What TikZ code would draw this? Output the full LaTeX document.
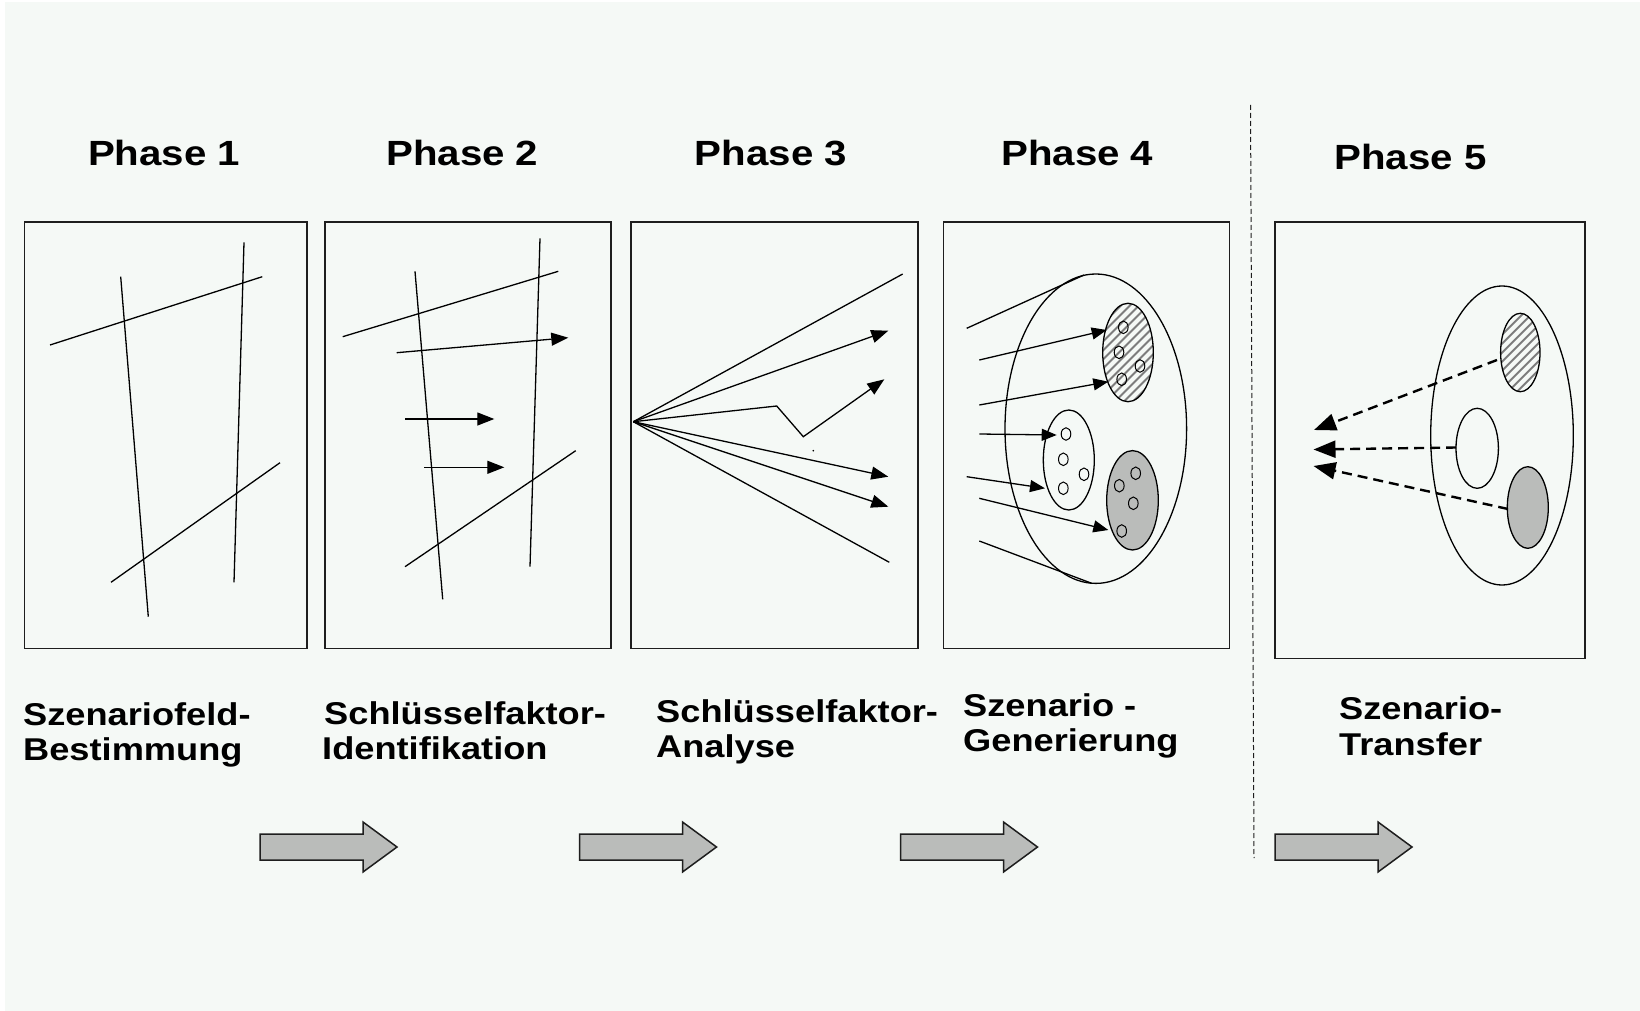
\documentclass[tikz,border=0pt]{standalone}
\usepackage{fontspec}
\setmainfont{Liberation Sans}
\newfontfamily\phfont{Liberation Sans}[FakeStretch=1.15]
\usetikzlibrary{arrows.meta}
\definecolor{bg}{RGB}{245,249,246}
\definecolor{boxgrey}{RGB}{186,188,186}
\definecolor{hatchgrey}{RGB}{125,125,125}
\definecolor{edge}{RGB}{30,30,30}
\newcommand\hatchell[4]{%
  \begin{scope}
    \clip (#1,#2) ellipse [x radius=#3pt, y radius=#4pt];
    \foreach \k in {-14,...,14}
      \draw[hatchgrey, line width=2pt] ({#1+\k*9-70},{#2+70}) -- ++(140,-140);
  \end{scope}
  \draw[thinline] (#1,#2) ellipse [x radius=#3pt, y radius=#4pt];}
\begin{document}
\begin{tikzpicture}[x=1pt,y=-1pt,
  panel/.style={draw=edge,line width=1.6pt},
  thinline/.style={line width=1.3pt,draw=black},
  arr/.style={thinline,-{Triangle[length=17pt,width=13pt]}},
  arrsmall/.style={thinline,-{Triangle[length=15pt,width=12pt]}},
  dasharr/.style={line width=2.4pt,dash pattern=on 10pt off 6pt,-{Triangle[length=22pt,width=17pt]}},
  divider/.style={draw=edge,line width=1pt,dash pattern=on 5pt off 3pt},
  dot/.style={line width=1pt,draw=black},
  blockarrow/.pic={\draw[draw=edge,line width=1.5pt,fill=boxgrey,line join=miter]
     (0,12) -- (103,12) -- (103,0) -- (137,25) -- (103,50) -- (103,38) -- (0,38) -- cycle;},
  phasetxt/.style={font=\phfont\bfseries\fontsize{35}{42}\selectfont,inner sep=0pt,anchor=base},
  lbl/.style={font=\phfont\bfseries\fontsize{31.5}{38}\selectfont,inner sep=0pt,anchor=base west}]
\useasboundingbox (0,0) rectangle (1640,1011);
\fill[white] (0,0) rectangle (1640,1011);
\fill[bg] (5,2) rectangle (1640,1011);

% titles
\node[phasetxt] (p1) at (164.2,165.7) {Phase 1};
\node[phasetxt] (p2) at (462.3,165.7) {Phase 2};
\node[phasetxt] (p3) at (770.9,165.7) {Phase 3};
\node[phasetxt] (p4) at (1077.3,165.7) {Phase 4};
\node[phasetxt] (p5) at (1410.5,170) {Phase 5};

% divider
\draw[divider] (1250.5,105) -- (1254,858);

% ---- panel 1
\draw[panel] (24.3,221.7) rectangle (306.7,648.3);
\draw[thinline] (50,345) -- (262.3,276.7);
\draw[thinline] (120.7,276.7) -- (148.3,616.7);
\draw[thinline] (244,242.3) -- (234,582.3);
\draw[thinline] (111,582.3) -- (280,462.7);

% ---- panel 2
\draw[panel] (325,221.7) rectangle (611,648.3);
\draw[thinline] (342.7,336.7) -- (558.3,271.3);
\draw[thinline] (415,271.3) -- (442.7,599.3);
\draw[thinline] (540,238.3) -- (530,566.7);
\draw[thinline] (405,566.7) -- (575.7,450.7);
\draw[arr] (396.7,352.7) -- (568.3,337.7);
\draw[arr] (405,419) -- (494.3,419);
\draw[arr] (424,467.3) -- (504.3,467.3);

% ---- panel 3
\draw[panel] (631,221.7) rectangle (917.7,648.3);
\coordinate (o) at (633.3,421.7);
\draw[thinline] (o) -- (902.7,274);
\draw[arr] (o) -- (888.3,330.7);
\draw[arr,line join=miter] (o) -- (776.7,406) -- (803.3,436.7) -- (884.3,379.3);
\draw[arr] (o) -- (888.3,476.7);
\draw[arr] (o) -- (888.3,506.7);
\draw[thinline] (o) -- (889.3,562.3);
\fill[black] (813.3,450.7) circle [radius=0.9pt];

% ---- panel 4
\draw[panel] (943.3,221.7) rectangle (1229.3,648.3);
\draw[thinline] (1095.8,428.7) ellipse [x radius=90.8pt, y radius=154.7pt];
\hatchell{1128}{352.5}{25.3}{49.2}
\draw[thinline] (1068.8,460) ellipse [x radius=25.5pt, y radius=50pt];
\draw[thinline,fill=boxgrey] (1132.5,500.3) ellipse [x radius=25.8pt, y radius=49.7pt];
\foreach \x/\y in {1123.3/327.3,1119/352.3,1140/366,1121.7/379.3,
                   1066/434,1063.3/459.3,1084/474.3,1063.3/488.3,
                   1135.7/473.3,1119.3/485.7,1133.3/503.3,1121.7/531}
  \draw[dot] (\x,\y) ellipse [x radius=4.8pt, y radius=6.3pt];
\draw[thinline] (966.7,328.3) -- (1084,275);
\draw[thinline] (979.3,541) -- (1091.7,583.3);
\draw[arrsmall] (979.3,360) -- (1106.7,330);
\draw[arrsmall] (979.3,405) -- (1108.3,381.7);
\draw[arrsmall] (979.3,434) -- (1056.7,435);
\draw[arrsmall] (966.7,476.7) -- (1045,488.3);
\draw[arrsmall] (979.3,498.3) -- (1108.3,530);

% ---- panel 5
\draw[panel] (1275,221.7) rectangle (1585,658.3);
\draw[thinline] (1502,435.5) ellipse [x radius=71.3pt, y radius=149.5pt];
\hatchell{1520.3}{352.5}{19.7}{39.2}
\draw[thinline] (1477.2,448.3) ellipse [x radius=21.2pt, y radius=40pt];
\draw[thinline,fill=boxgrey] (1527.8,507.5) ellipse [x radius=20.5pt, y radius=40.8pt];
\draw[dasharr] (1497,360) -- (1314,430);
\draw[dasharr] (1456,447.5) -- (1313.5,449.5);
\draw[dasharr] (1508,509) -- (1313.5,466);

% labels
\node[lbl] (l1a) at (23,725) {Szenariofeld-};
\node[lbl] (l1b) at (23,760) {Bestimmung};
\node[lbl] (l2a) at (324,724) {Schlüsselfaktor-};
\node[lbl] (l2b) at (322,759) {Identifikation};
\node[lbl] (l3a) at (656,722) {Schlüsselfaktor-};
\node[lbl] (l3b) at (656,757) {Analyse};
\node[lbl] (l4a) at (963,716) {Szenario -};
\node[lbl] (l4b) at (963,751) {Generierung};
\node[lbl] (l5a) at (1339,719) {Szenario-};
\node[lbl] (l5b) at (1339,755) {Transfer};

% block arrows
\pic at (260,822) {blockarrow};
\pic at (579.5,822) {blockarrow};
\pic at (900.5,822) {blockarrow};
\pic at (1275,822) {blockarrow};
\end{tikzpicture}
\end{document}
